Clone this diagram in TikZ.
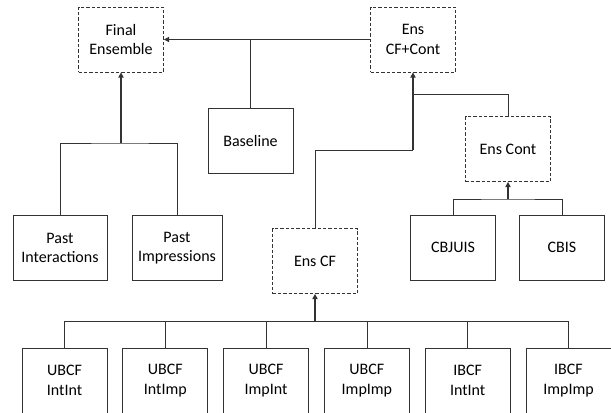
\documentclass[tikz,border=0pt]{standalone}
\usepackage{fontspec}
\setmainfont{Carlito}
\usetikzlibrary{positioning,arrows.meta}

\begin{document}
\begin{tikzpicture}[
            x=0.75pt, y=-0.75pt,
            % separacion entre cajas de la fila inferior
            node distance=11.25pt,
            % cajas de modelos
            block/.style={rectangle, draw=black!80, line width=0.6pt, minimum width=63.75pt, minimum height=48.75pt, align=center, inner sep=1pt, font=\fontsize{12}{14.5}\selectfont},
            % cajas de ensambles
            ens/.style={block, dash pattern=on 2.5pt off 1.5pt},
            line/.style={draw=black!80, line width=0.6pt},
            arrow/.style={line, -{Triangle[length=4pt,width=4pt]}},
            fork/.style={arrow, line width=1pt}
        ]
            \useasboundingbox (0,0) rectangle (611,412);

            \node [ens] (final) at (121,39.5) {Final\\Ensemble};
            \node [ens] (ensall) at (413,39.5) {Ens\\CF+Cont};
            \node [block] (base) at (250.5,141) {Baseline};
            \node [ens] (enscont) at (508,149) {Ens Cont};
            \node [ens] (enscf) at (315,261) {Ens CF};
            \node [block, minimum width=70.5pt] (pint) at (60,248) {Past\\Interactions};
            \node [block, minimum width=67.5pt] (pimp) at (177,248) {Past\\Impressions};
            \node [block] (cbjuis) at (453,247.5) {CBJUIS};
            \node [block] (cbis) at (562,247.5) {CBIS};

            \node [block] (uii) at (64.5,380.5) {UBCF\\IntInt};
            \node [block, right=of uii] (uim) {UBCF\\IntImp};
            \node [block, right=of uim] (umi) {UBCF\\ImpInt};
            \node [block, right=of umi] (umm) {UBCF\\ImpImp};
            \node [block, right=of umm] (iii) {IBCF\\IntInt};
            \node [block, right=of iii] (imm) {IBCF\\ImpImp};

            \coordinate (pastjoin) at (121,143);
            \coordinate (cfjoin) at (413,150);
            \coordinate (contjoin) at (413,94);
            \coordinate (cbjoin) at (508,199);
            \coordinate (botjoin) at (315,321);

            \path [arrow] (ensall) -- (final);
            \path [line] (base.north) -- (base.north |- final.east);
            \path [fork] (pastjoin) -- (final.south);
            \path [line] (pint.north) |- (pastjoin) -| (pimp.north);
            \path [line] (enscf.north) |- (cfjoin);
            \path [fork] (cfjoin) -- (ensall.south);
            \path [line] (enscont.north) |- (contjoin);
            \path [fork] (cbjoin) -- (enscont.south);
            \path [line] (cbjuis.north) |- (cbjoin) -| (cbis.north);
            \path [fork] (botjoin) -- (enscf.south);
            \foreach \n in {uii,uim,umi,umm,iii,imm}
                \path [line] (\n.north) |- (botjoin);
        \end{tikzpicture}
\end{document}
